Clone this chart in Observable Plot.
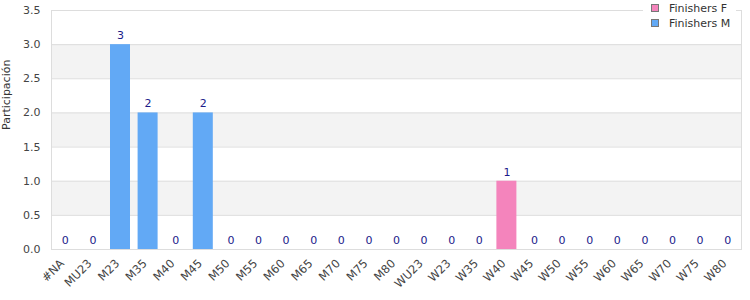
<!DOCTYPE html>
<html><head><meta charset="utf-8">
<script src="https://cdn.jsdelivr.net/npm/d3@7"></script>
<script src="https://cdn.jsdelivr.net/npm/@observablehq/plot@0.6"></script>
<style>
body{margin:0;background:#fff;font-family:"DejaVu Sans",sans-serif;}
#wrap{position:relative;width:750px;height:300px;}
#legend{position:absolute;left:643px;top:0;width:93px;height:34px;background:#fff;font-size:11px;color:#333;}
.li{position:absolute;left:8px;height:14px;line-height:14px;}
.sw{display:inline-block;width:6px;height:6px;border:1px solid #777;margin-right:10px;vertical-align:0px;}
</style>
</head><body>
<div id="wrap"><div id="chart"></div>
<div id="legend"></div></div>
<script>
const categories = ["#NA","MU23","M23","M35","M40","M45","M50","M55","M60","M65","M70","M75","M80","WU23","W23","W35","W40","W45","W50","W55","W60","W65","W70","W75","W80"];
const finishersF = [0,0,0,0,0,0,0,0,0,0,0,0,0,0,0,0,1,0,0,0,0,0,0,0,0];
const finishersM = [0,0,3,2,0,2,0,0,0,0,0,0,0,0,0,0,0,0,0,0,0,0,0,0,0];
const seriesNames = ["Finishers F","Finishers M"];
const seriesColors = ["#f484bc","#62a9f5"];
const yTicks = [0,0.5,1,1.5,2,2.5,3,3.5];

const rows = [];
categories.forEach((c,i)=>{
  rows.push({cat:c, series:seriesNames[0], value:finishersF[i]});
  rows.push({cat:c, series:seriesNames[1], value:finishersM[i]});
});
const totals = categories.map((c,i)=>({cat:c, total:finishersF[i]+finishersM[i]}));
const bands = [];
for (let i=1;i<yTicks.length-1;i+=2) bands.push({y1:yTicks[i], y2:yTicks[i+1]});

const chart = Plot.plot({
  width:750, height:300,
  marginLeft:51, marginRight:9, marginTop:10, marginBottom:51,
  style:{fontFamily:"DejaVu Sans, sans-serif", fontSize:"11px", color:"#444", background:"#fff"},
  x:{domain:categories, padding:0, round:false},
  y:{domain:[0,3.5]},
  color:{domain:seriesNames, range:seriesColors},
  marks:[
    Plot.rect(bands,{y1:"y1",y2:"y2",fill:"#f3f3f3"}),
    Plot.ruleY(yTicks,{stroke:"#dddddd"}),
    Plot.frame({stroke:"#dddddd"}),
    Plot.barY(rows,{x:"cat",y:"value",fill:"series",insetLeft:3.8,insetRight:3.8}),
    Plot.text(totals,{x:"cat",y:"total",text:d=>String(d.total),dy:-9,fill:"#1b1b8a",fontSize:11}),
    Plot.axisY({ticks:yTicks,tickFormat:d3.format(".1f"),tickSize:0,tickPadding:11,label:null,fill:"#444"}),
    Plot.axisX({tickSize:0,tickRotate:-45,tickPadding:12,label:null,fill:"#444",dx:-3,fontSize:11.5}),
    Plot.text(["Participación"],{frameAnchor:"left",rotate:-90,dx:-45,fill:"#333",fontSize:11})
  ]
});
document.getElementById("chart").appendChild(chart);

const lg = document.getElementById("legend");
seriesNames.forEach((n,i)=>{
  const d = document.createElement("div");
  d.className="li"; d.style.top=(2+i*15)+"px";
  d.innerHTML = `<span class="sw" style="background:${seriesColors[i]}"></span>${n}`;
  lg.appendChild(d);
});
</script>
</body></html>
